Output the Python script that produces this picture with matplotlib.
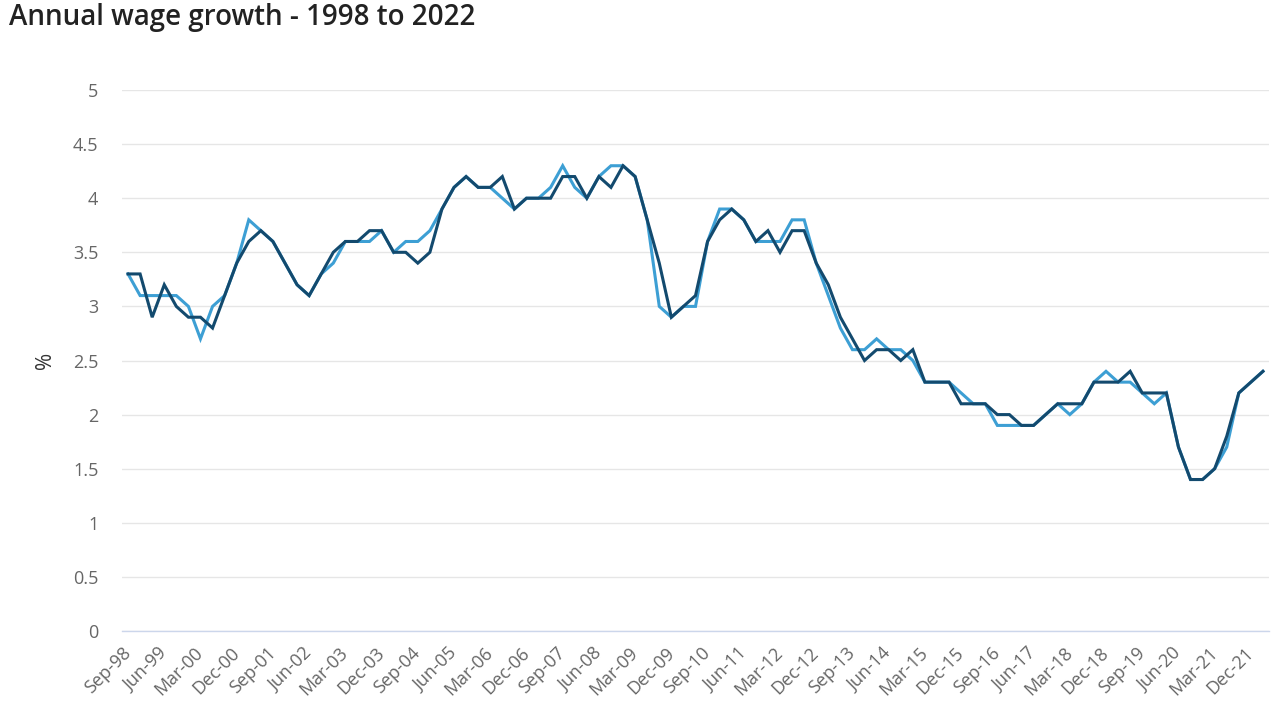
"""
Annual wage growth 1998-2022, two quarterly series.
"""
import numpy as np
import matplotlib
matplotlib.use("Agg")
import matplotlib.pyplot as plt

plt.rcParams["font.family"] = ["Open Sans", "DejaVu Sans"]

QUARTERS = ["Sep", "Dec", "Mar", "Jun"]
START_YEAR = 1998
N_POINTS = 95

# quarter labels Sep-98 .. Mar-22
labels = []
for i in range(N_POINTS):
    q = QUARTERS[i % 4]
    yr = START_YEAR + (i + 2) // 4
    labels.append(q + "-" + str(yr)[-2:])

series_light = [
    3.3, 3.1, 3.1, 3.1, 3.1, 3.0, 2.7, 3.0, 3.1, 3.4,
    3.8, 3.7, 3.6, 3.4, 3.2, 3.1, 3.3, 3.4, 3.6, 3.6,
    3.6, 3.7, 3.5, 3.6, 3.6, 3.7, 3.9, 4.1, 4.2, 4.1,
    4.1, 4.0, 3.9, 4.0, 4.0, 4.1, 4.3, 4.1, 4.0, 4.2,
    4.3, 4.3, 4.2, 3.8, 3.0, 2.9, 3.0, 3.0, 3.6, 3.9,
    3.9, 3.8, 3.6, 3.6, 3.6, 3.8, 3.8, 3.4, 3.1, 2.8,
    2.6, 2.6, 2.7, 2.6, 2.6, 2.5, 2.3, 2.3, 2.3, 2.2,
    2.1, 2.1, 1.9, 1.9, 1.9, 1.9, 2.0, 2.1, 2.0, 2.1,
    2.3, 2.4, 2.3, 2.3, 2.2, 2.1, 2.2, 1.7, 1.4, 1.4,
    1.5, 1.7, 2.2, 2.3, 2.4,
]

series_dark = [
    3.3, 3.3, 2.9, 3.2, 3.0, 2.9, 2.9, 2.8, 3.1, 3.4,
    3.6, 3.7, 3.6, 3.4, 3.2, 3.1, 3.3, 3.5, 3.6, 3.6,
    3.7, 3.7, 3.5, 3.5, 3.4, 3.5, 3.9, 4.1, 4.2, 4.1,
    4.1, 4.2, 3.9, 4.0, 4.0, 4.0, 4.2, 4.2, 4.0, 4.2,
    4.1, 4.3, 4.2, 3.8, 3.4, 2.9, 3.0, 3.1, 3.6, 3.8,
    3.9, 3.8, 3.6, 3.7, 3.5, 3.7, 3.7, 3.4, 3.2, 2.9,
    2.7, 2.5, 2.6, 2.6, 2.5, 2.6, 2.3, 2.3, 2.3, 2.1,
    2.1, 2.1, 2.0, 2.0, 1.9, 1.9, 2.0, 2.1, 2.1, 2.1,
    2.3, 2.3, 2.3, 2.4, 2.2, 2.2, 2.2, 1.7, 1.4, 1.4,
    1.5, 1.8, 2.2, 2.3, 2.4,
]

y_ticks = [0, 0.5, 1, 1.5, 2, 2.5, 3, 3.5, 4, 4.5, 5]
y_tick_labels = ["0", "0.5", "1", "1.5", "2", "2.5", "3", "3.5", "4", "4.5", "5"]

W, H = 1286, 728
fig = plt.figure(figsize=(W / 100, H / 100), dpi=100)
ax = fig.add_axes([122 / W, 1 - 631 / H, (1269 - 122) / W, (631 - 90) / H])

x = np.arange(N_POINTS)
ax.plot(x, series_light, color="#3d9fd4", linewidth=2.2, zorder=3, solid_joinstyle="miter")
ax.plot(x, series_dark, color="#134a6e", linewidth=2.2, zorder=4, solid_joinstyle="miter")

ax.set_xlim(-0.5, N_POINTS - 0.5)
ax.set_ylim(0, 5)

ax.set_yticks(y_ticks)
ax.set_yticklabels(y_tick_labels)
ax.yaxis.grid(True, color="#e6e6e6", linewidth=1)
ax.set_axisbelow(True)

tick_pos = x[::3]
ax.set_xticks(tick_pos)
ax.set_xticklabels([labels[i] for i in tick_pos], rotation=45, ha="right",
                   va="center", rotation_mode="anchor")

ax.tick_params(axis="y", length=0, pad=17, labelsize=13, labelcolor="#666666")
ax.tick_params(axis="x", length=0, pad=14, labelsize=13, labelcolor="#666666")

for side in ("top", "right", "left"):
    ax.spines[side].set_visible(False)
ax.spines["bottom"].set_color("#ccd6eb")
ax.spines["bottom"].set_linewidth(1)

fig.text(45 / W, 1 - 360 / H, "%", rotation=90, ha="center", va="center",
         fontsize=15, color="#333333")
fig.text(9 / W, 1 - 18 / H, "Annual wage growth - 1998 to 2022", ha="left", va="center",
         fontsize=20, fontweight="semibold", color="#222222")

fig.savefig("out.png", dpi=100, facecolor="white")
